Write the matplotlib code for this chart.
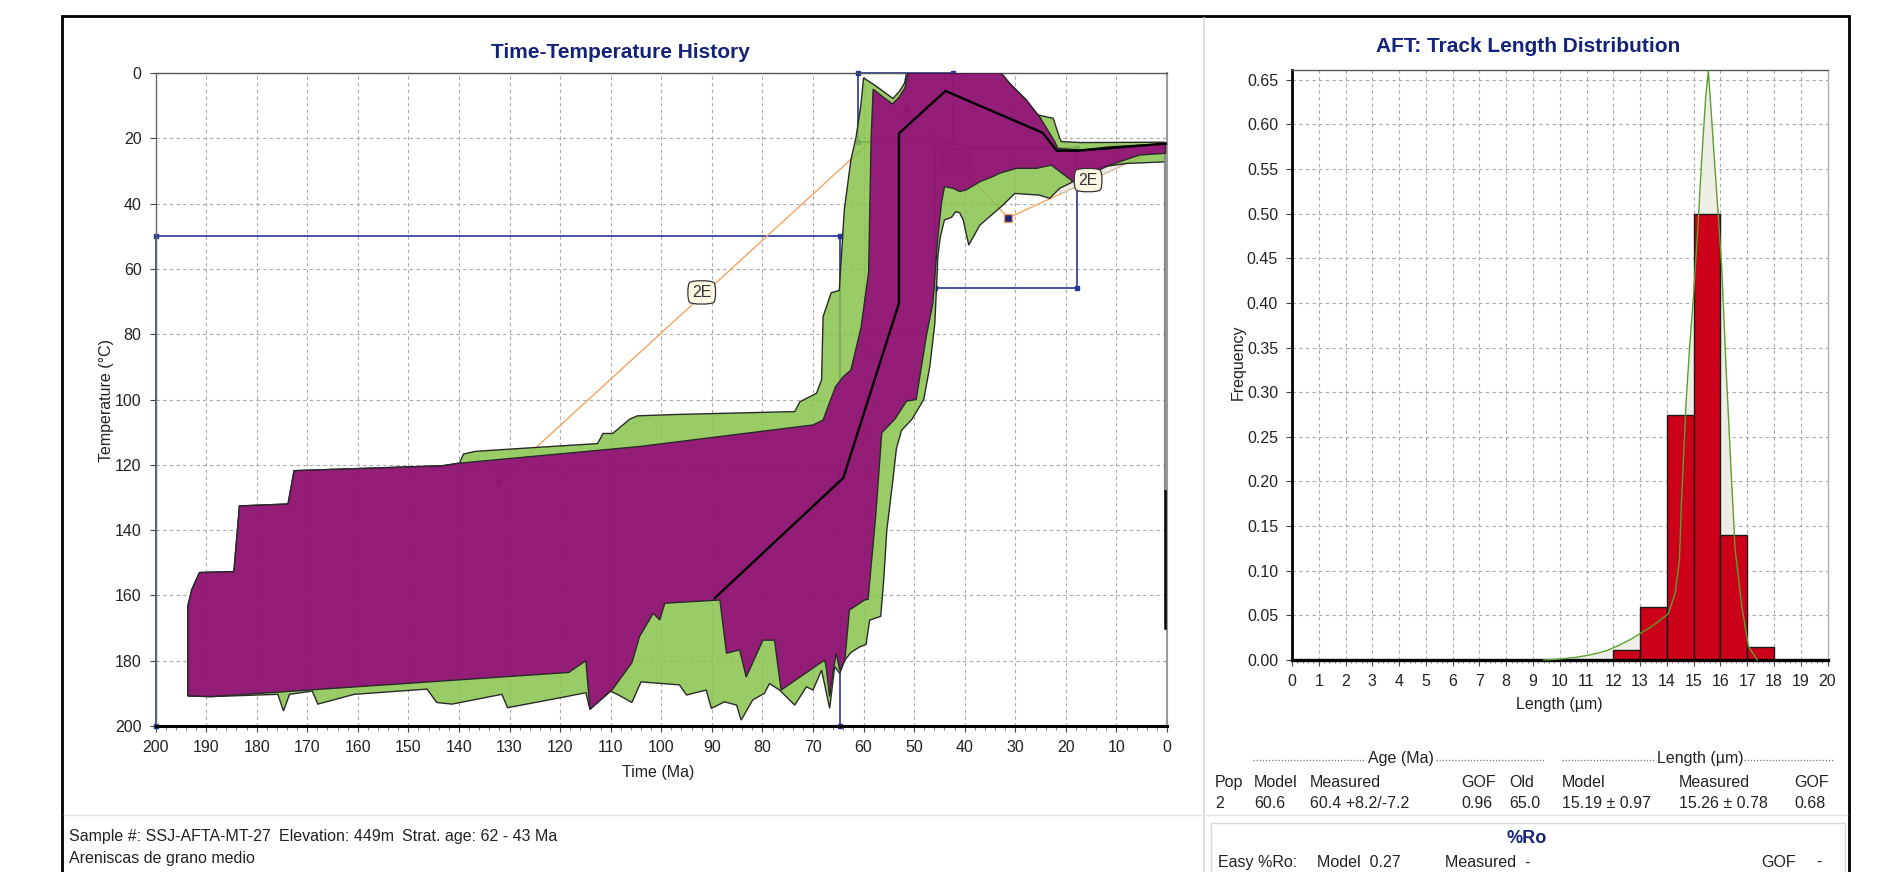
import matplotlib
matplotlib.use("Agg")
import matplotlib.pyplot as plt
from matplotlib import font_manager
from matplotlib.patches import Polygon, Rectangle
from matplotlib.lines import Line2D
from matplotlib.ticker import MultipleLocator, FormatStrFormatter

# ---------------- data ----------------
time_ticks = list(range(200, -1, -10))
temp_ticks = list(range(0, 201, 20))

# acceptable-fit envelope (green), (time Ma, temperature C)
green_envelope = [
    (193.6, 190.8), (193.6, 163.2), (192.8, 158.1), (191.3, 153.0), (184.5, 152.7), (183.4, 132.6),
    (173.8, 132.0), (172.6, 121.8), (143.3, 120.3), (139.9, 119.5), (139.1, 116.7), (136.8, 115.9),
    (130.0, 115.2), (112.6, 113.5), (111.5, 110.4), (109.6, 110.4), (106.2, 106.0), (104.7, 105.0),
    (97.3, 104.6), (73.6, 103.7), (72.6, 100.7), (69.3, 98.1), (68.3, 94.0), (68.0, 74.6),
    (66.4, 67.3), (64.8, 66.6), (63.8, 41.8), (62.5, 26.6), (61.5, 19.8), (60.5, 9.5), (60.0, 1.5),
    (57.8, 3.7), (54.2, 7.8), (52.9, 5.6), (51.9, 3.1), (51.5, 0.0), (32.8, 0.0), (31.1, 3.2),
    (27.8, 8.3), (25.6, 12.8), (22.5, 13.9), (21.2, 20.0), (20.9, 21.0), (17.0, 21.3), (0.5, 21.2),
    (0.3, 21.5), (0.3, 27.2), (8.0, 27.7), (12.7, 28.7), (15.0, 30.5), (17.5, 32.2), (19.2, 33.8),
    (21.2, 35.3), (23.2, 38.4), (25.2, 37.4), (30.1, 36.9), (32.4, 40.4), (37.0, 46.6), (39.2, 52.7),
    (40.3, 45.0), (41.0, 42.8), (41.8, 42.5), (42.6, 44.2), (44.0, 45.0), (44.8, 50.0), (45.3, 56.0),
    (45.6, 66.4), (45.9, 76.6), (46.9, 89.9), (48.1, 100.0), (50.4, 106.0), (52.5, 109.5),
    (53.5, 115.0), (54.2, 124.7), (55.4, 140.0), (56.0, 155.0), (56.6, 166.4), (58.8, 167.6),
    (59.5, 175.0), (60.8, 175.8), (62.5, 177.5), (63.7, 179.8), (64.7, 183.9), (65.7, 181.8),
    (66.7, 194.6), (68.3, 182.9), (70.0, 189.0), (71.3, 188.0), (73.6, 193.6), (76.6, 189.0),
    (78.6, 187.0), (79.6, 190.0), (81.9, 192.0), (84.2, 198.2), (85.1, 193.6), (87.5, 192.6),
    (90.1, 194.6), (91.1, 189.0), (95.0, 190.5), (96.4, 187.4), (104.0, 186.5), (105.8, 192.8),
    (108.1, 190.8), (110.0, 189.3), (114.1, 194.9), (114.9, 189.8), (119.8, 191.3), (130.4, 194.4),
    (131.5, 190.3), (141.4, 193.3), (144.4, 192.8), (146.3, 188.7), (160.7, 190.3), (167.9, 193.3),
    (169.0, 189.3), (173.5, 190.3), (174.7, 195.4), (175.8, 190.3), (189.0, 191.0),
]

# good-fit envelope (purple)
purple_envelope = [
    (193.6, 190.8), (193.6, 163.2), (192.8, 158.1), (191.3, 153.0), (184.5, 152.7), (183.4, 132.6),
    (173.8, 132.0), (172.6, 121.8), (143.3, 120.3), (139.9, 119.5), (104.3, 114.4), (70.0, 107.8),
    (68.0, 106.3), (66.5, 100.0), (65.5, 96.0), (64.0, 93.0), (62.5, 91.0), (60.5, 78.0),
    (59.0, 61.0), (58.5, 20.0), (58.1, 5.0), (54.3, 9.5), (53.0, 7.5), (51.8, 4.5), (51.2, 0.0),
    (32.8, 0.0), (31.1, 3.2), (27.8, 8.3), (25.2, 13.4), (22.2, 21.0), (21.6, 23.1), (17.3, 23.6),
    (11.3, 22.6), (0.8, 21.7), (0.3, 22.0), (0.3, 24.6), (5.4, 25.1), (11.3, 28.2), (12.7, 29.2),
    (18.6, 33.3), (19.2, 32.5), (21.6, 29.7), (22.9, 28.2), (25.8, 29.2), (29.8, 29.2), (33.1, 30.7),
    (34.4, 31.7), (37.0, 33.3), (39.7, 35.8), (41.0, 36.3), (42.3, 35.3), (44.0, 34.8), (44.6, 39.9),
    (45.3, 50.1), (46.3, 70.5), (47.6, 80.7), (49.6, 100.0), (51.5, 100.5), (53.8, 106.0),
    (56.4, 110.2), (57.6, 135.7), (59.1, 161.2), (59.8, 161.4), (62.8, 164.5), (63.7, 179.8),
    (64.7, 182.9), (65.4, 177.7), (66.0, 182.9), (66.7, 191.0), (67.4, 181.8), (67.7, 179.8),
    (76.3, 189.0), (77.6, 173.7), (79.9, 173.7), (83.2, 185.0), (84.5, 176.7), (87.1, 177.7),
    (88.4, 161.4), (99.3, 162.4), (100.3, 167.5), (101.6, 165.5), (104.3, 172.6), (105.8, 180.6),
    (109.6, 188.7), (114.1, 194.9), (114.9, 180.0), (118.3, 183.6), (189.0, 191.0),
]

# pale region under the young part of the envelope
pale_patch = [(21.2, 35.3), (19.2, 33.8), (17.5, 32.2), (15.0, 30.5), (12.7, 28.7), (8.0, 27.7), (21.2, 37.1)]

# best-fit path
best_t = [89.4, 64.0, 53.0, 53.0, 43.8, 24.6, 21.8, 17.6, 0.0]
best_T = [160.8, 124.0, 70.5, 18.5, 5.5, 18.3, 23.8, 23.8, 21.6]

# 2E constraint path (orange)
path_t = [132.3, 51.6, 31.4, 0.0]
path_T = [125.4, 11.0, 44.4, 22.0]
label_2E = [(92.0, 67.2), (41.8, 27.0), (15.6, 32.8)]

# constraint boxes: (t_old, t_young, T_low, T_high)
boxes = [(200.0, 64.7, 50.0, 200.0), (45.8, 17.7, 23.0, 65.8), (61.1, 42.3, 0.0, 21.0)]

# track length histogram
bin_left = [12, 13, 14, 15, 16, 17]
freq = [0.011, 0.059, 0.275, 0.500, 0.140, 0.015]
model_len = [9.4, 10.0, 10.6, 11.0, 11.4, 11.8, 12.25, 12.7, 13.07, 13.4, 13.73, 14.06, 14.31,
             14.47, 14.55, 14.72, 14.85, 15.0, 15.15, 15.3, 15.45, 15.55, 15.71, 15.88, 16.05,
             16.21, 16.3, 16.39, 16.55, 16.8, 17.05, 17.38]
model_freq = [0.0, 0.001, 0.003, 0.005, 0.0075, 0.011, 0.017, 0.024, 0.031, 0.037, 0.044, 0.052,
              0.075, 0.112, 0.18, 0.29, 0.35, 0.41, 0.48, 0.56, 0.63, 0.66, 0.59, 0.515, 0.44,
              0.328, 0.273, 0.217, 0.124, 0.06, 0.015, 0.0]
len_ticks = list(range(0, 21))
freq_ticks = [i * 0.05 for i in range(14)]

# ---------------- style ----------------
names = {f.name for f in font_manager.fontManager.ttflist}
FONT = "Liberation Sans Narrow" if "Liberation Sans Narrow" in names else "Liberation Sans"
plt.rcParams["font.family"] = [FONT, "DejaVu Sans"]

W, H = 1893, 872
NAVY = "#14237a"
BLUE = "#27349a"
GREEN = "#87c34b"
PURPLE = "#92007b"
EDGE = "#2a2a2a"
GRID = dict(color="#a8a8a8", linestyle=(0, (3, 3)), linewidth=0.8)
TICKFS = 11.5

fig = plt.figure(figsize=(W / 100, H / 100), dpi=100)
fig.patch.set_facecolor("white")


def fx(x):
    return x / W


def fy(y):
    return 1 - y / H


def ftext(x, y, s, **kw):
    fig.text(fx(x), fy(y), s, **kw)


# outer frame & separators
fig.add_artist(Rectangle((fx(62), fy(876)), fx(1849) - fx(62), fy(16) - fy(876),
                         fill=False, ec="black", lw=2.0, transform=fig.transFigure))
fig.add_artist(Line2D([fx(1204), fx(1204)], [fy(18), fy(872)], color="#d8d8d8", lw=1.2, transform=fig.transFigure))
fig.add_artist(Line2D([fx(64), fx(1204)], [fy(815), fy(815)], color="#e2e2e2", lw=1.0, transform=fig.transFigure))
fig.add_artist(Line2D([fx(1206), fx(1847)], [fy(815), fy(815)], color="#e2e2e2", lw=1.0, transform=fig.transFigure))
fig.add_artist(Rectangle((fx(1211), fy(880)), fx(1845) - fx(1211), fy(823) - fy(880),
                         fill=False, ec="#d8d8d8", lw=1.0, transform=fig.transFigure))

# ---------------- left: time-temperature ----------------
ax = fig.add_axes([fx(155.5), fy(726), fx(1167) - fx(155.5), fy(73) - fy(726)])
ax.set_xlim(200, 0)
ax.set_ylim(200, 0)
ax.set_xticks(time_ticks)
ax.set_yticks(temp_ticks)
ax.xaxis.set_minor_locator(MultipleLocator(2))
ax.grid(True, which="major", **GRID)
ax.set_axisbelow(True)
ax.tick_params(axis="both", which="major", direction="out", length=4, width=0.8, color="#444",
               labelsize=TICKFS, pad=6, labelcolor="#222")
ax.tick_params(axis="x", which="minor", direction="out", length=3, width=0.6, color="#666")
for s, c, w in (("left", "#6a6a6a", 1.0), ("top", "#555555", 1.0), ("right", "#9a9a9a", 1.5), ("bottom", "black", 2.2)):
    ax.spines[s].set_color(c)
    ax.spines[s].set_linewidth(w)

# constraint boxes and path (beneath the semi-transparent envelopes)
for (t0, t1, T0, T1) in boxes:
    ax.plot([t0, t1, t1, t0, t0], [T0, T0, T1, T1, T0], color=BLUE, lw=1.2, zorder=1.5, clip_on=False)
    ax.plot([t0, t1, t1, t0], [T0, T0, T1, T1], ls="none", marker="s", ms=3, color=BLUE, zorder=1.6, clip_on=False)
ax.plot(path_t, path_T, color="#f4a460", lw=1.0, zorder=1.7)
ax.plot(path_t[:2], path_T[:2], ls="none", marker="s", ms=5, color="#7a1070", zorder=1.7)
ax.plot(path_t[2:3], path_T[2:3], ls="none", marker="s", ms=6, color="#1a237e", mec="#f4a460", zorder=5)
lab_kw = dict(ha="center", va="center", fontsize=11.5, color="#333333",
              bbox=dict(boxstyle="round4,pad=0.3", fc="#fbf7e2", ec="#333333", lw=0.9))
ax.text(*label_2E[0], "2E", zorder=6, **lab_kw)
ax.text(*label_2E[1], "2E", zorder=1.8, **lab_kw)

ax.add_patch(Polygon(pale_patch, closed=True, fc="#eeece0", ec="#bdbbb0", lw=0.6, zorder=1.9))
ax.add_patch(Polygon(green_envelope, closed=True, fc=GREEN, alpha=0.85, ec="none", zorder=2))
ax.add_patch(Polygon(green_envelope, closed=True, fill=False, ec=EDGE, lw=1.0, zorder=2.1))
ax.add_patch(Polygon(purple_envelope, closed=True, fc=PURPLE, alpha=0.86, ec="none", zorder=3))
ax.add_patch(Polygon(purple_envelope, closed=True, fill=False, ec=EDGE, lw=1.0, zorder=3.1))
ax.plot(best_t, best_T, color="black", lw=1.7, zorder=4)
ax.text(*label_2E[2], "2E", zorder=6, **lab_kw)

# present-day edge line
ax.plot([0.35, 0.35], [25, 128], color="#8a8a8a", lw=1.6, zorder=4, clip_on=False)
ax.plot([0.35, 0.35], [128, 170], color="black", lw=1.8, zorder=4, clip_on=False)

ftext(620, 52, "Time-Temperature History", ha="center", va="center", fontsize=15,
      fontweight="bold", color=NAVY)
ftext(107, 400, "Temperature (\u00b0C)", ha="center", va="center", rotation=90, fontsize=11.5, color="#222")
ftext(658, 772, "Time (Ma)", ha="center", va="center", fontsize=11.5, color="#222")

# ---------------- right: track length ----------------
ax2 = fig.add_axes([fx(1292), fy(660), fx(1827.5) - fx(1292), fy(70) - fy(660)])
ax2.set_xlim(0, 20)
ax2.set_ylim(0, 0.661)
ax2.set_xticks(len_ticks)
ax2.set_yticks(freq_ticks)
ax2.yaxis.set_major_formatter(FormatStrFormatter("%.2f"))
ax2.xaxis.set_minor_locator(MultipleLocator(0.2))
ax2.grid(True, which="major", **GRID)
ax2.set_axisbelow(True)
ax2.tick_params(axis="both", which="major", direction="out", length=4, width=0.8, color="#444",
                labelsize=TICKFS, pad=6, labelcolor="#222")
ax2.tick_params(axis="x", which="minor", direction="out", length=2.5, width=0.6, color="#666")
for s, c, w in (("left", "black", 2.0), ("top", "#555555", 1.0), ("right", "#b0b0b0", 1.0), ("bottom", "black", 2.4)):
    ax2.spines[s].set_color(c)
    ax2.spines[s].set_linewidth(w)

ax2.fill_between(model_len, model_freq, color="#eeeee6", zorder=1.5, lw=0)
ax2.bar(bin_left, freq, width=1.0, align="edge", color="#cc0018", edgecolor="#1a1a1a", lw=1.0, zorder=2)
ax2.plot(model_len, model_freq, color="#5aa02c", lw=1.0, zorder=3, clip_on=False)

ftext(1528, 47, "AFT: Track Length Distribution", ha="center", va="center", fontsize=15,
      fontweight="bold", color=NAVY)
ftext(1238, 362, "Frequency", ha="center", va="center", rotation=90, fontsize=11.5, color="#222")
ftext(1559, 704, "Length (\u00b5m)", ha="center", va="center", fontsize=11.5, color="#222")

# ---------------- text blocks ----------------
TFS = 11.5
ftext(69, 836, "Sample #: SSJ-AFTA-MT-27", ha="left", va="center", fontsize=TFS, color="#222")
ftext(279, 836, "Elevation: 449m", ha="left", va="center", fontsize=TFS, color="#222")
ftext(402, 836, "Strat. age: 62 - 43 Ma", ha="left", va="center", fontsize=TFS, color="#222")
ftext(69, 858, "Areniscas de grano medio", ha="left", va="center", fontsize=TFS, color="#222")

DOT = dict(color="#777777", lw=0.9, ls=(0, (1, 1.5)), transform=fig.transFigure)
for x0, x1 in ((1253, 1366), (1436, 1545), (1562, 1656), (1744, 1834)):
    fig.add_artist(Line2D([fx(x0), fx(x1)], [fy(760), fy(760)], **DOT))
ftext(1401, 758, "Age (Ma)", ha="center", va="center", fontsize=TFS, color="#222")
ftext(1700, 758, "Length (\u00b5m)", ha="center", va="center", fontsize=TFS, color="#222")

header_x = [1215, 1254, 1310, 1461, 1509, 1562, 1679, 1794]
header = ["Pop", "Model", "Measured", "GOF", "Old", "Model", "Measured", "GOF"]
values = ["2", "60.6", "60.4 +8.2/-7.2", "0.96", "65.0", "15.19 \u00b1 0.97", "15.26 \u00b1 0.78", "0.68"]
for x, h, v in zip(header_x, header, values):
    ftext(x, 782, h, ha="left", va="center", fontsize=TFS, color="#222")
    ftext(x, 803, v, ha="left", va="center", fontsize=TFS, color="#222")

ftext(1527, 838, "%Ro", ha="center", va="center", fontsize=13, fontweight="bold", color=NAVY)
ftext(1218, 862, "Easy %Ro:", ha="left", va="center", fontsize=TFS, color="#222")
ftext(1317, 862, "Model  0.27", ha="left", va="center", fontsize=TFS, color="#222")
ftext(1445, 862, "Measured  -", ha="left", va="center", fontsize=TFS, color="#222")
ftext(1761, 862, "GOF", ha="left", va="center", fontsize=TFS, color="#222")
ftext(1816, 862, "-", ha="left", va="center", fontsize=TFS, color="#222")

fig.savefig("out.png", dpi=100, facecolor="white")
